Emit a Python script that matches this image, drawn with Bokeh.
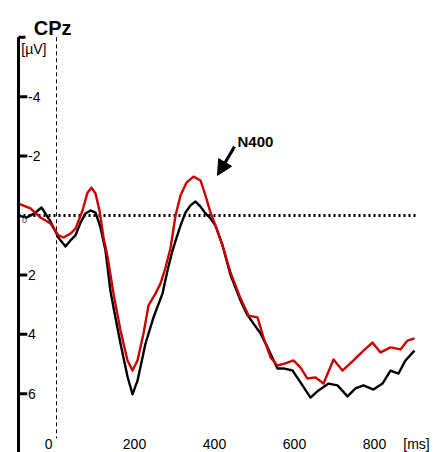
from bokeh.plotting import figure
from bokeh.models import Range1d, Arrow, NormalHead
from bokeh.core.properties import value
from bokeh.embed import file_html
from bokeh.resources import INLINE

# ---- data ----
black_t = [-95, -75, -55, -37.5, -15, 5, 22.5, 35, 47.5, 60, 72.5, 85, 97.5, 110, 122.5, 135, 147.5, 160,
           177.5, 190, 202.5, 222.5, 242.5, 265, 277.5, 290, 300, 310, 322.5, 335, 347.5, 360, 372.5, 385,
           397.5, 415, 435, 460, 475, 492.5, 510, 527.5, 552.5, 567.5, 590, 610, 635, 655, 680, 702.5,
           727.5, 747.5, 767.5, 792.5, 815, 835, 855, 872.5, 895]
black_v = [0.0, 0.07, -0.07, -0.27, 0.2, 0.75, 1.04, 0.84, 0.67, 0.24, -0.07, -0.17, -0.1, 0.4, 1.18, 2.55,
           3.45, 4.31, 5.42, 6.02, 5.56, 4.31, 3.43, 2.63, 1.85, 1.18, 0.75, 0.34, -0.1, -0.34, -0.47, -0.3,
           -0.07, 0.1, 0.34, 1.0, 2.0, 2.86, 3.3, 3.64, 3.97, 4.44, 5.15, 5.15, 5.22, 5.62, 6.13, 5.89, 5.66,
           5.72, 6.09, 5.82, 5.72, 5.86, 5.66, 5.22, 5.32, 4.88, 4.55]

red_t = [-95, -65, -40, -15, 5, 17.5, 35, 47.5, 65, 77.5, 87.5, 97.5, 107.5, 117.5, 127.5, 142.5, 160, 177.5,
         190, 202.5, 217.5, 230, 247.5, 260, 272.5, 285, 297.5, 310, 325, 342.5, 360, 372.5, 385, 397.5, 415,
         435, 460, 480, 502.5, 517.5, 535, 552.5, 572.5, 592.5, 610, 627.5, 647.5, 667.5, 692.5, 715, 742.5,
         767.5, 790, 810, 835, 860, 877.5, 895]
red_v = [-0.4, -0.24, 0.07, 0.27, 0.67, 0.74, 0.61, 0.44, -0.17, -0.77, -0.94, -0.74, -0.17, 0.74, 1.38, 2.63,
         3.87, 4.88, 5.22, 4.88, 3.97, 3.03, 2.63, 2.29, 1.75, 1.1, 0.0, -0.67, -1.11, -1.31, -1.18, -0.67,
         -0.1, 0.34, 1.01, 1.92, 2.79, 3.37, 3.43, 4.11, 4.78, 5.05, 4.98, 4.88, 5.12, 5.49, 5.45, 5.66, 4.85,
         5.22, 4.88, 4.55, 4.28, 4.61, 4.44, 4.51, 4.21, 4.14]

y_ticks = [-4, -2, 2, 4, 6]
y_tick_labels = ["-4", "-2", "2", "4", "6"]
x_ticks = [200, 400, 600, 800]
x_tick_labels = ["200", "400", "600", "800"]
t_start, t_end = -95, 900
v_top = -6
title_text = "CPz"
unit_y = "[µV]"
unit_x = "[ms]"
annot = "N400"

FONT = value("Liberation Sans")

p = figure(width=448, height=452, output_backend="svg", toolbar_location=None,
           x_range=Range1d(-140, 980), y_range=Range1d(7.98, -7.24),
           min_border=0, min_border_left=0, min_border_right=0, min_border_top=0, min_border_bottom=0)
p.axis.visible = False
p.grid.visible = False
p.outline_line_color = None
p.background_fill_color = "white"

# vertical dashed stimulus-onset line
p.line([0, 0], [v_top, 7.5], line_color="black", line_width=1, line_dash="4 3")
# dotted zero line
p.line([t_start, t_end], [0, 0], line_color="black", line_width=3, line_dash="2 3")

# curves
p.line(black_t, black_v, line_color="black", line_width=2.4, line_join="round")
p.line(red_t, red_v, line_color="#cc0000", line_width=2.4, line_join="round")

# custom y axis (tick marks and labels inside)
p.line([t_start, t_start], [v_top, 8], line_color="black", line_width=3)
p.segment(x0=[t_start], y0=[v_top], x1=[-77.5], y1=[v_top], line_color="black", line_width=3)
p.segment(x0=[t_start] * len(y_ticks), y0=y_ticks, x1=[-73] * len(y_ticks), y1=y_ticks,
          line_color="black", line_width=3)
p.text(x=[-71] * len(y_ticks), y=y_ticks, text=y_tick_labels, text_font=FONT, text_font_size="14px",
       text_align="left", text_baseline="middle", text_color="black")
p.text(x=[-86], y=[0.15], text=["0"], text_font=FONT, text_font_size="9px",
       text_align="left", text_baseline="middle", text_color="#333333")
p.text(x=[-88], y=[-5.6], text=[unit_y], text_font=FONT, text_font_size="14px",
       text_align="left", text_baseline="middle", text_color="black")

# x tick labels
p.text(x=x_ticks, y=[7.7] * len(x_ticks), text=x_tick_labels, text_font=FONT, text_font_size="14px",
       text_align="center", text_baseline="alphabetic", x_offset=-2, text_color="black")
p.text(x=[0], y=[7.7], text=["0"], text_font=FONT, text_font_size="14px",
       text_align="right", text_baseline="alphabetic", x_offset=-4, text_color="black")
p.text(x=[t_end], y=[7.7], text=[unit_x], text_font=FONT, text_font_size="14px",
       text_align="center", text_baseline="alphabetic", text_color="black")

# title
p.text(x=[-57], y=[-6.3], text=[title_text], text_font=FONT, text_font_size="20px", text_font_style="bold",
       text_align="left", text_baseline="alphabetic", text_color="black")

# N400 annotation
p.text(x=[452.5], y=[-2.49], text=[annot], text_font=FONT, text_font_size="15px", text_font_style="bold",
       text_align="left", text_baseline="alphabetic", text_color="black")
p.add_layout(Arrow(end=NormalHead(size=15, fill_color="black", line_color="black"),
                   x_start=445, y_start=-2.32, x_end=402.5, y_end=-1.35,
                   line_color="black", line_width=3))

open("out.html", "w").write(file_html(p, INLINE))
